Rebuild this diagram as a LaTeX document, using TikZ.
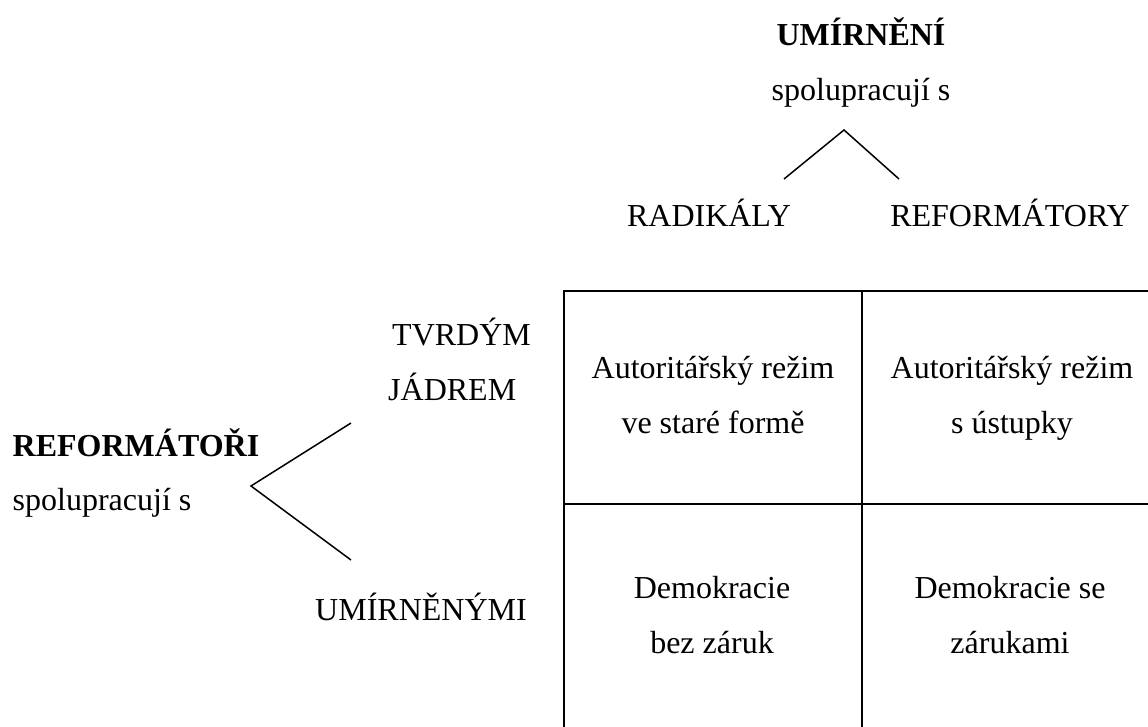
\documentclass[tikz,border=0pt]{standalone}
\usepackage{fontspec}
\setmainfont{Liberation Serif}
\begin{document}
\begin{tikzpicture}[x=1pt,y=1pt,
  lbl/.style={inner sep=0pt, font=\fontsize{32}{38}\selectfont},
  bl/.style={lbl, font=\fontsize{32}{38}\selectfont\bfseries},
  conn/.style={line width=1.5pt},
  grid/.style={line width=2pt}]
\useasboundingbox[fill=white] (0,0) rectangle (1148,-726);
% top group
\node[bl, anchor=base] (umirneni) at (861,-45) {UMÍRNĚNÍ};
\node[lbl, anchor=base] (spolu1) at (861,-100) {spolupracují s};
\node[lbl, anchor=base] (radikaly) at (709,-226) {RADIKÁLY};
\node[lbl, anchor=base] (reformatory) at (1010,-226) {REFORMÁTORY};
\coordinate (apexT) at (844,-130);
\coordinate (endTL) at (784,-179);
\coordinate (endTR) at (899,-179);
\draw[conn] (endTL) -- (apexT) -- (endTR);
% left group
\node[bl, anchor=base west] (reformatori) at (12.5,-456) {REFORMÁTOŘI};
\node[lbl, anchor=base west] (spolu2) at (12.5,-510) {spolupracují s};
\node[lbl, anchor=base west] (tvrdym) at (392,-345) {TVRDÝM};
\node[lbl, anchor=base west] (jadrem) at (388,-400) {JÁDREM};
\node[lbl, anchor=base west] (umirnenymi) at (315,-620) {UMÍRNĚNÝMI};
\coordinate (apexL) at (251,-486);
\coordinate (endLU) at (351,-423);
\coordinate (endLD) at (351,-560);
\draw[conn] (endLU) -- (apexL) -- (endLD);
% table
\coordinate (tl) at (564,-291);
\coordinate (tm) at (862,-291);
\coordinate (tr) at (1170,-291);
\coordinate (ml) at (564,-504);
\coordinate (mr) at (1170,-504);
\coordinate (bl) at (564,-740);
\coordinate (bm) at (862,-740);
\draw[grid] (tr) -- (tl) -- (bl);
\draw[grid] (ml) -- (mr);
\draw[grid] (tm) -- (bm);
\node[lbl, anchor=base] (c11a) at (713,-378) {Autoritářský režim};
\node[lbl, anchor=base] (c11b) at (713,-433) {ve staré formě};
\node[lbl, anchor=base] (c12a) at (1012,-378) {Autoritářský režim};
\node[lbl, anchor=base] (c12b) at (1012,-433) {s ústupky};
\node[lbl, anchor=base] (c21a) at (712,-598) {Demokracie};
\node[lbl, anchor=base] (c21b) at (712,-653) {bez záruk};
\node[lbl, anchor=base] (c22a) at (1010,-598) {Demokracie se};
\node[lbl, anchor=base] (c22b) at (1010,-653) {zárukami};
\end{tikzpicture}
\end{document}
